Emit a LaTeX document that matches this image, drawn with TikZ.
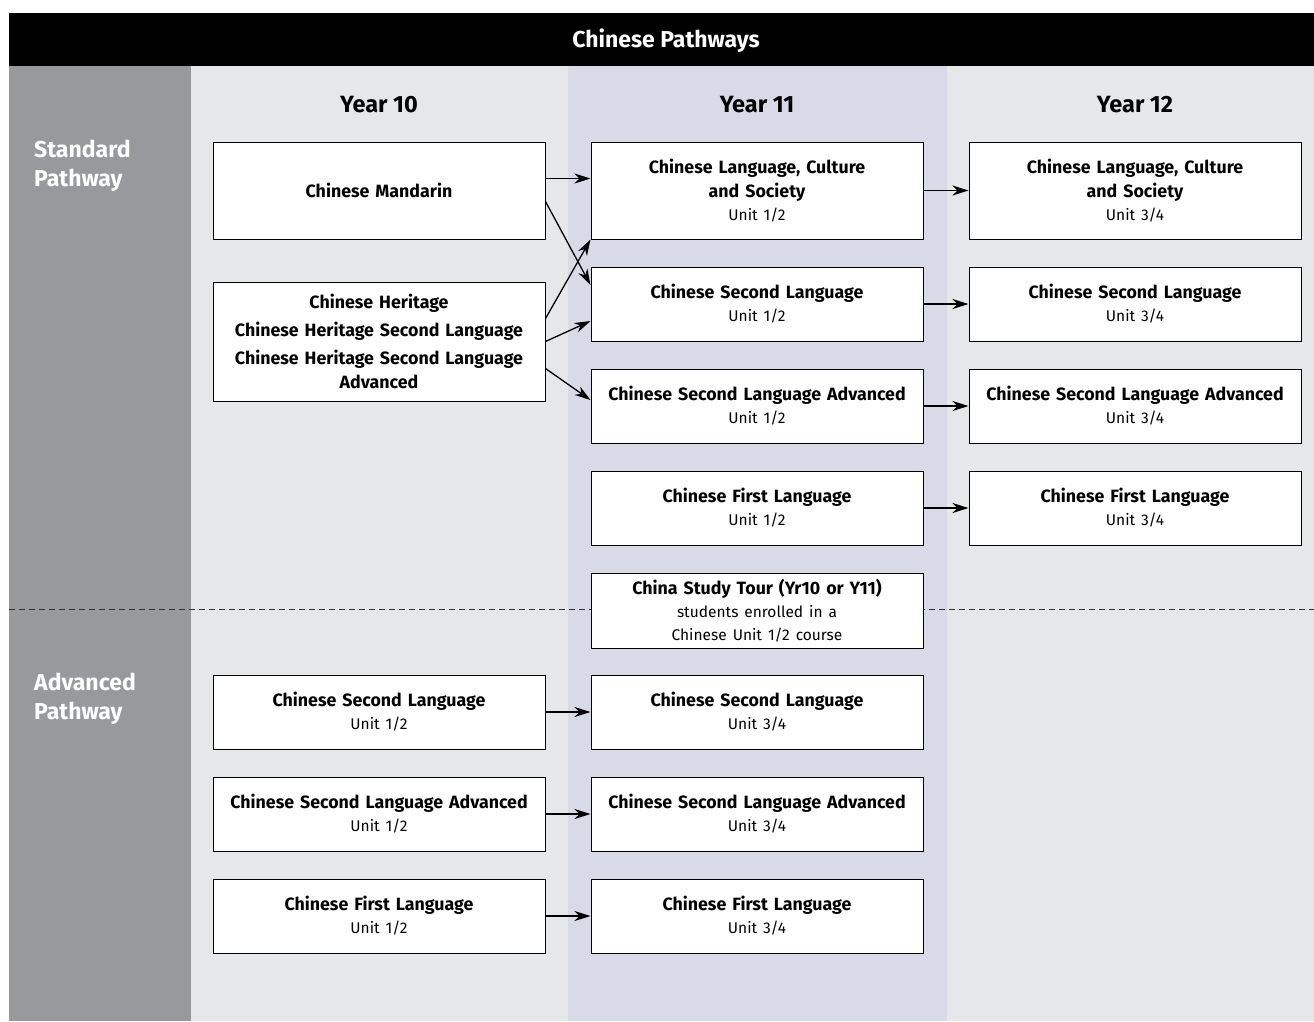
\documentclass[tikz,border=0pt]{standalone}
\usepackage{fontspec}
\setmainfont{Fira Sans}
\usetikzlibrary{arrows.meta}
\definecolor{side}{HTML}{98999D}
\definecolor{pale}{HTML}{E6E7E9}
\definecolor{lav}{HTML}{D8DAE7}
\newcommand{\unitline}[1]{\\[-1pt]{\fontsize{15.5}{20}\selectfont\mdseries #1}}
\begin{document}
\begin{tikzpicture}[x=1pt,y=-1pt,
  box/.style={draw=black, line width=1pt, fill=white, align=center, inner sep=0pt,
    minimum width=332pt, text width=326pt, font=\fontsize{17.8}{24}\selectfont\bfseries},
  yearlbl/.style={font=\fontsize{23.5}{24}\selectfont\bfseries},
  pathlbl/.style={font=\fontsize{23}{29}\selectfont\bfseries, text=white, align=left, anchor=north west, inner sep=0pt},
  conn/.style={line width=1.3pt, -{Stealth[length=16pt,width=10pt,inset=5pt]}}]
\useasboundingbox (0,0) rectangle (1314,1021);
\fill[white] (0,0) rectangle (1314,1021);
% column backgrounds
\fill[side] (9,66) rectangle (191,1021);
\fill[pale] (191,66) rectangle (568,1021);
\fill[lav] (568,66) rectangle (947,1021);
\fill[pale] (947,66) rectangle (1314,1021);
\fill[black] (9,13) rectangle (1314,66);
\node[font=\fontsize{23}{24}\selectfont\bfseries, text=white] (title) at (666,41) {Chinese Pathways};
\node[yearlbl] (y10) at (379,105) {Year 10};
\node[yearlbl] (y11) at (757,105) {Year 11};
\node[yearlbl] (y12) at (1135,105) {Year 12};
\node[pathlbl] (std) at (34,140) {Standard\\Pathway};
\node[pathlbl] (adv) at (34,673) {Advanced\\Pathway};
% dashed separator
\coordinate (dl) at (9,609);
\coordinate (dr) at (1314,609);
\draw[line width=1pt, draw=black!80, dash pattern=on 6pt off 4pt] (dl) -- (dr);
% Year 10 standard
\node[box, minimum height=97pt] (man) at (379,190.5) {Chinese Mandarin};
\node[box, minimum height=119pt] (her) at (379,341.5) {Chinese Heritage\\[4pt]Chinese Heritage Second Language\\[4pt]Chinese Heritage Second Language\\Advanced};
% Year 11 standard
\node[box, minimum height=97pt] (clcsA) at (757,190.5) {Chinese Language, Culture\\and Society\unitline{Unit 1/2}};
\node[box, minimum height=74pt] (cslA) at (757,304) {Chinese Second Language\unitline{Unit 1/2}};
\node[box, minimum height=74pt] (cslaA) at (757,406) {Chinese Second Language Advanced\unitline{Unit 1/2}};
\node[box, minimum height=74pt] (cflA) at (757,508) {Chinese First Language\unitline{Unit 1/2}};
\node[box, minimum height=75pt] (tour) at (757,610.5) {China Study Tour (Yr10 or Y11)\unitline{students enrolled in a}\unitline{Chinese Unit 1/2 course}};
% Year 12 standard
\node[box, minimum height=97pt] (clcsB) at (1135,190.5) {Chinese Language, Culture\\and Society\unitline{Unit 3/4}};
\node[box, minimum height=74pt] (cslB) at (1135,304) {Chinese Second Language\unitline{Unit 3/4}};
\node[box, minimum height=74pt] (cslaB) at (1135,406) {Chinese Second Language Advanced\unitline{Unit 3/4}};
\node[box, minimum height=74pt] (cflB) at (1135,508) {Chinese First Language\unitline{Unit 3/4}};
% Advanced pathway
\node[box, minimum height=74pt] (acslA) at (379,712) {Chinese Second Language\unitline{Unit 1/2}};
\node[box, minimum height=74pt] (acslaA) at (379,814) {Chinese Second Language Advanced\unitline{Unit 1/2}};
\node[box, minimum height=74pt] (acflA) at (379,916) {Chinese First Language\unitline{Unit 1/2}};
\node[box, minimum height=74pt] (acslB) at (757,712) {Chinese Second Language\unitline{Unit 3/4}};
\node[box, minimum height=74pt] (acslaB) at (757,814) {Chinese Second Language Advanced\unitline{Unit 3/4}};
\node[box, minimum height=74pt] (acflB) at (757,916) {Chinese First Language\unitline{Unit 3/4}};
% connectors
\draw[conn] ([yshift=12pt]man.east) -- ([yshift=12pt]clcsA.west);
\draw[conn] ([yshift=-11pt]man.east) -- ([yshift=19pt]cslA.west);
\draw[conn] ([yshift=23pt]her.east) -- (clcsA.south west);
\draw[conn] (her.east) -- ([yshift=-17pt]cslA.west);
\draw[conn] ([yshift=-27pt]her.east) -- ([yshift=6pt]cslaA.west);
\draw[conn] (clcsA.east) -- (clcsB.west);
\draw[conn] (cslA.east) -- (cslB.west);
\draw[conn] (cslaA.east) -- (cslaB.west);
\draw[conn] (cflA.east) -- (cflB.west);
\draw[conn] (acslA.east) -- (acslB.west);
\draw[conn] (acslaA.east) -- (acslaB.west);
\draw[conn] (acflA.east) -- (acflB.west);
\end{tikzpicture}
\end{document}
